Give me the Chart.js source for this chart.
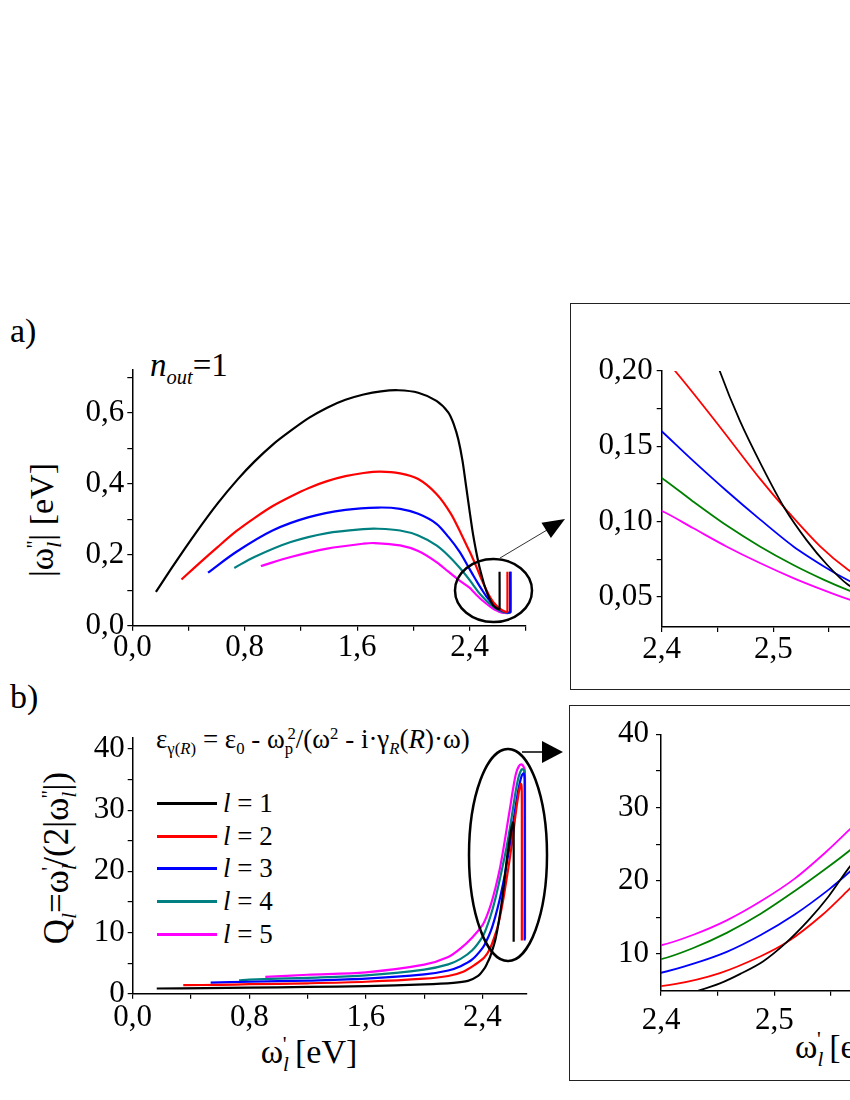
<!DOCTYPE html>
<html><head><meta charset="utf-8">
<script src="https://cdn.jsdelivr.net/npm/chart.js@4.4.0/dist/chart.umd.min.js"></script>
<style>
html,body{margin:0;padding:0;width:850px;height:1100px;overflow:hidden;background:#fff;}
body{position:relative;font-family:"Liberation Serif","Times New Roman",Times,"DejaVu Serif","Noto Serif",serif;color:#000;}
canvas{position:absolute;}
.t{position:absolute;white-space:nowrap;line-height:1;font-family:"Liberation Serif","Times New Roman",Times,"DejaVu Serif","Noto Serif",serif;}
.t sub{font-size:0.62em;vertical-align:-0.38em;line-height:0;}
.t sup{font-size:0.62em;vertical-align:0.55em;line-height:0;}
.rot{transform:translate(-50%,-50%) rotate(-90deg);}
.box{position:absolute;border:1.5px solid #222;box-sizing:border-box;}
.lg{position:absolute;height:3px;width:60px;left:157px;}
svg{position:absolute;left:0;top:0;}
</style></head>
<body>
<div class="box" style="left:570px;top:303px;width:400px;height:387px;"></div>
<div class="box" style="left:569px;top:705px;width:400px;height:376px;"></div>

<div class="t" style="left:10px;top:314px;font-size:34px;">a)</div>
<div class="t" style="left:10px;top:680px;font-size:34px;">b)</div>
<div class="t" style="left:150px;top:349px;font-size:33px;"><i>n</i><sub><i>out</i></sub>=1</div>
<div class="t rot" style="left:42px;top:520px;font-size:34px;">|ω<sub><i>l</i></sub><sup style="margin-left:-0.3em">''</sup>| [eV]</div>
<div class="t rot" style="left:56px;top:858px;font-size:35px;">Q<sub><i>l</i></sub>=ω<sub><i>l</i></sub><sup style="margin-left:-0.3em">'</sup>/(2|ω<sub><i>l</i></sub><sup style="margin-left:-0.3em">''</sup>|)</div>
<div class="t" style="left:309px;top:1035px;font-size:34px;transform:translateX(-50%);">ω<sub><i>l</i></sub><sup style="margin-left:-0.3em">'</sup> [eV]</div>
<div class="t" style="left:795px;top:1030px;font-size:34px;">ω<sub><i>l</i></sub><sup style="margin-left:-0.3em">'</sup> [eV]</div>
<div class="t" style="left:156px;top:726px;font-size:27px;">ε<sub>γ(<i>R</i>)</sub> = ε<sub>0</sub> - ω<sub>p</sub><sup style="margin-left:-0.35em">2</sup>/(ω<sup>2</sup> - i·γ<sub><i>R</i></sub>(<i>R</i>)·ω)</div>

<div class="lg" style="top:802px;background:#000;"></div>
<div class="lg" style="top:835px;background:#ff0000;"></div>
<div class="lg" style="top:867px;background:#0000ff;"></div>
<div class="lg" style="top:900px;background:#008080;"></div>
<div class="lg" style="top:933px;background:#ff00ff;"></div>
<div class="t" style="left:223px;top:790px;font-size:27px;"><i>l</i> = 1</div>
<div class="t" style="left:223px;top:823px;font-size:27px;"><i>l</i> = 2</div>
<div class="t" style="left:223px;top:855px;font-size:27px;"><i>l</i> = 3</div>
<div class="t" style="left:223px;top:888px;font-size:27px;"><i>l</i> = 4</div>
<div class="t" style="left:223px;top:921px;font-size:27px;"><i>l</i> = 5</div>

<script>
// ---- Panel a: |omega''| vs omega' (eV) ----
const aX_l1 = [0.168,0.30,0.45,0.609,0.75,0.869,1.0,1.128,1.257,1.387,1.517,1.646,1.77,1.893,2.035,2.165,2.25,2.29,2.32,2.35,2.375,2.40,2.425,2.452,2.47,2.49,2.51,2.53,2.548,2.567,2.585,2.60,2.61,2.614,2.614];
const aY_l1 = [0.095,0.174,0.260,0.345,0.412,0.462,0.510,0.549,0.585,0.614,0.636,0.651,0.660,0.663,0.656,0.633,0.600,0.565,0.525,0.465,0.395,0.325,0.258,0.200,0.167,0.1365,0.109,0.0875,0.0715,0.058,0.0515,0.048,0.0468,0.0475,0.152];
const aX_l2 = [0.35,0.48,0.609,0.74,0.869,1.0,1.128,1.257,1.387,1.517,1.646,1.763,1.906,2.035,2.165,2.268,2.346,2.38,2.412,2.452,2.488,2.512,2.542,2.567,2.59,2.61,2.63,2.65,2.663,2.668,2.670,2.670];
const aY_l2 = [0.130,0.177,0.222,0.266,0.303,0.337,0.364,0.388,0.407,0.421,0.430,0.434,0.429,0.413,0.371,0.315,0.254,0.226,0.200,0.163,0.1285,0.1075,0.0835,0.068,0.0576,0.0502,0.0441,0.0402,0.0388,0.0392,0.0417,0.152];
const aX_l3 = [0.539,0.739,0.998,1.257,1.517,1.75,1.906,2.035,2.165,2.25,2.33,2.40,2.428,2.458,2.488,2.518,2.548,2.567,2.59,2.61,2.63,2.65,2.67,2.683,2.689,2.689];
const aY_l3 = [0.1495,0.2075,0.268,0.3056,0.326,0.3327,0.329,0.315,0.287,0.250,0.208,0.160,0.1405,0.1205,0.1015,0.0835,0.069,0.061,0.053,0.0468,0.0422,0.0392,0.0374,0.0373,0.0384,0.152];
const aX_l4 = [0.726,0.869,1.128,1.387,1.646,1.75,1.906,2.035,2.165,2.25,2.33,2.40,2.428,2.458,2.488,2.518,2.545,2.567,2.59,2.61,2.63,2.65,2.67,2.685,2.692,2.692];
const aY_l4 = [0.1626,0.1935,0.2355,0.2608,0.272,0.273,0.268,0.254,0.226,0.197,0.163,0.129,0.1134,0.0975,0.0835,0.0712,0.0615,0.0545,0.048,0.0433,0.0396,0.0372,0.0364,0.0368,0.0385,0.152];
const aX_l5 = [0.915,1.128,1.387,1.646,1.724,1.906,2.035,2.165,2.25,2.33,2.40,2.428,2.458,2.488,2.518,2.545,2.567,2.59,2.61,2.63,2.65,2.665,2.68,2.69,2.694,2.694];
const aY_l5 = [0.168,0.1935,0.217,0.231,0.2327,0.226,0.210,0.179,0.152,0.127,0.107,0.0957,0.0835,0.0725,0.0625,0.0545,0.0485,0.0432,0.0393,0.0367,0.0357,0.0355,0.036,0.0368,0.039,0.152];

// ---- Panel b: Q = omega'/(2|omega''|) vs omega' (eV) ----
const bX_l1 = [0.165,0.5,0.8,1.2,1.6,2.0,2.2,2.3,2.37,2.41,2.433,2.452,2.47,2.49,2.51,2.53,2.548,2.567,2.585,2.60,2.61,2.614,2.614];
const bY_l1 = [0.85,0.92,1.0,1.1,1.25,1.52,1.77,2.1,2.9,4.0,5.0,6.0,7.3,9.0,11.5,14.6,17.9,22.0,25.0,27.2,28.0,27.5,8.5];
const bX_l2 = [0.347,0.6,0.8,1.2,1.6,2.0,2.165,2.268,2.346,2.412,2.452,2.488,2.512,2.542,2.567,2.59,2.61,2.63,2.65,2.663,2.668,2.670,2.670];
const bY_l2 = [1.4,1.45,1.55,1.7,1.95,2.45,2.9,3.6,4.7,5.9,7.4,9.7,11.7,15.3,19.0,22.5,26,29.8,33,34.3,34,32,8.7];
const bX_l3 = [0.535,0.8,1.2,1.6,2.0,2.165,2.25,2.33,2.40,2.428,2.458,2.488,2.518,2.548,2.567,2.59,2.61,2.63,2.65,2.67,2.683,2.689,2.689];
const bY_l3 = [1.8,1.95,2.15,2.45,3.15,3.8,4.5,5.6,7.45,8.65,10.3,12.6,15.4,18.8,21.3,24.6,27.8,31.0,33.8,35.7,36,35,8.7];
const bX_l4 = [0.73,0.8,1.2,1.6,2.0,2.165,2.25,2.33,2.40,2.428,2.458,2.488,2.518,2.545,2.567,2.59,2.61,2.63,2.65,2.67,2.685,2.692,2.692];
const bY_l4 = [2.2,2.3,2.6,3.0,3.95,4.8,5.7,7.1,9.3,10.8,12.9,15.5,18.6,21.6,24.2,27.3,30.4,33.4,35.6,36.7,36.5,35,9];
const bX_l5 = [0.91,1.2,1.6,2.0,2.165,2.25,2.33,2.40,2.428,2.458,2.488,2.518,2.546,2.567,2.59,2.61,2.63,2.65,2.667,2.68,2.69,2.694,2.694];
const bY_l5 = [2.75,3.1,3.5,4.75,6.0,7.4,9.2,11.2,12.6,14.6,17.2,20.3,24.0,27.1,30.5,33.5,36.0,37.2,37.5,37.2,36.5,34,9];

// ---- Tick values and labelled ticks ----
const aXTicks = [0,0.4,0.8,1.2,1.6,2.0,2.4,2.8];
const aXLabels = [0,0.8,1.6,2.4];
const aYTicks = [0,0.1,0.2,0.3,0.4,0.5,0.6,0.7];
const aYLabels = [0,0.2,0.4,0.6];
const bXTicks = [0,0.4,0.8,1.2,1.6,2.0,2.4];
const bXLabels = [0,0.8,1.6,2.4];
const bYTicks = [0,5,10,15,20,25,30,35,40];
const bYLabels = [0,10,20,30,40];
const zXTicks = [2.4,2.45,2.5,2.55,2.6,2.65,2.7];
const zXLabels = [2.4,2.5,2.6];
const zaYTicks = [0.05,0.075,0.1,0.125,0.15,0.175,0.2];
const zaYLabels = [0.05,0.10,0.15,0.20];
const zbYTicks = [10,15,20,25,30,35,40];
const zbYLabels = [10,20,30,40];
const seriesNames = ['l = 1','l = 2','l = 3','l = 4','l = 5'];

const FONT = '"Liberation Serif","Times New Roman",Times,"DejaVu Serif","Noto Serif",serif';
const mainColors = ['#000000','#ff0000','#0000ff','#008080','#ff00ff'];
const zoomColors = ['#000000','#ff0000','#0000ff','#008000','#ff00ff'];

function fmt(v, labs, dec){
  return labs.some(l=>Math.abs(l-v)<1e-6) ? v.toFixed(dec).replace('.',',') : '';
}
function build(o){
  const cv=document.createElement('canvas');
  cv.width=o.w; cv.height=o.h; cv.style.left=o.left+'px'; cv.style.top=o.top+'px';
  document.body.appendChild(cv);
  const gridOpt={drawOnChartArea:false,drawTicks:true,tickLength:5,color:'#000',tickColor:'#000',lineWidth:1.2};
  const borderOpt={display:true,color:'#000',width:1.5};
  return new Chart(cv.getContext('2d'),{
    type:'scatter',
    data:{datasets:o.series.map((s,k)=>({label:seriesNames[k],data:s[0].map((x,i)=>({x:x,y:s[1][i]})),
      borderColor:o.colors[k],backgroundColor:o.colors[k],borderWidth:o.lw,showLine:true,pointRadius:0,tension:0.3,fill:false}))},
    options:{responsive:false,animation:false,devicePixelRatio:1,events:[],
      layout:{padding:{top:o.padTop,right:o.padRight,left:0,bottom:0}},
      plugins:{legend:{display:false},tooltip:{enabled:false}},
      scales:{
        x:{type:'linear',min:o.xmin,max:o.xmax,
          afterBuildTicks:s=>{s.ticks=o.xticks.map(v=>({value:v}));},
          afterFit:s=>{s.height=o.xh;},
          ticks:{autoSkip:false,maxRotation:0,minRotation:0,padding:o.xpad,color:'#000',font:{family:FONT,size:o.fs,lineHeight:1},
            callback:v=>fmt(v,o.xlabels,o.xdec)},
          grid:gridOpt,border:borderOpt},
        y:{type:'linear',min:o.ymin,max:o.ymax,
          afterBuildTicks:s=>{s.ticks=o.yticks.map(v=>({value:v}));},
          afterFit:s=>{s.width=o.yw;},
          ticks:{autoSkip:false,padding:o.ypad,color:'#000',font:{family:FONT,size:o.fs,lineHeight:1},
            callback:v=>fmt(v,o.ylabels,o.ydec)},
          grid:gridOpt,border:borderOpt}
      }}
  });
}
const aSeries=[[aX_l1,aY_l1],[aX_l2,aY_l2],[aX_l3,aY_l3],[aX_l4,aY_l4],[aX_l5,aY_l5]];
const bSeries=[[bX_l1,bY_l1],[bX_l2,bY_l2],[bX_l3,bY_l3],[bX_l4,bY_l4],[bX_l5,bY_l5]];

build({left:0,top:340,w:560,h:330,padTop:30,padRight:34.3,xh:44.3,yw:132.3,
  xmin:0,xmax:2.8,ymin:0,ymax:0.72,xticks:aXTicks,xlabels:aXLabels,xdec:1,yticks:aYTicks,ylabels:aYLabels,ydec:1,
  fs:31,xpad:2,ypad:3,lw:2.2,colors:mainColors,series:aSeries});
build({left:0,top:710,w:560,h:390,padTop:28,padRight:33.8,xh:106.3,yw:132.7,
  xmin:0,xmax:2.7,ymin:0,ymax:41.8,xticks:bXTicks,xlabels:bXLabels,xdec:1,yticks:bYTicks,ylabels:bYLabels,ydec:0,
  fs:31,xpad:4,ypad:3,lw:2.2,colors:mainColors,series:bSeries});
build({left:572,top:340,w:440,h:330,padTop:31,padRight:15.5,xh:43,yw:89.7,
  xmin:2.4,xmax:2.7,ymin:0.03,ymax:0.20,xticks:zXTicks,xlabels:zXLabels,xdec:1,yticks:zaYTicks,ylabels:zaYLabels,ydec:2,
  fs:31,xpad:2,ypad:4,lw:1.8,colors:zoomColors,series:aSeries});
build({left:572,top:707,w:440,h:330,padTop:27.3,padRight:11,xh:46.3,yw:89,
  xmin:2.4,xmax:2.7,ymin:5,ymax:40,xticks:zXTicks,xlabels:zXLabels,xdec:1,yticks:zbYTicks,ylabels:zbYLabels,ydec:0,
  fs:31,xpad:10,ypad:7,lw:1.8,colors:zoomColors,series:bSeries});
</script>
<svg width="850" height="1100">
  <ellipse cx="493.5" cy="590.5" rx="38.5" ry="31.5" fill="none" stroke="#000" stroke-width="2.5"/>
  <line x1="500" y1="558" x2="547" y2="530" stroke="#333" stroke-width="1"/>
  <polygon points="565,519 550.9,538.1 541.5,522.7" fill="#000"/>
  <ellipse cx="508" cy="855" rx="39" ry="106" fill="none" stroke="#000" stroke-width="2.5"/>
  <line x1="522" y1="752" x2="545" y2="752" stroke="#000" stroke-width="1.5"/>
  <polygon points="563,752 542,741 542,763" fill="#000"/>
</svg>
</body></html>
